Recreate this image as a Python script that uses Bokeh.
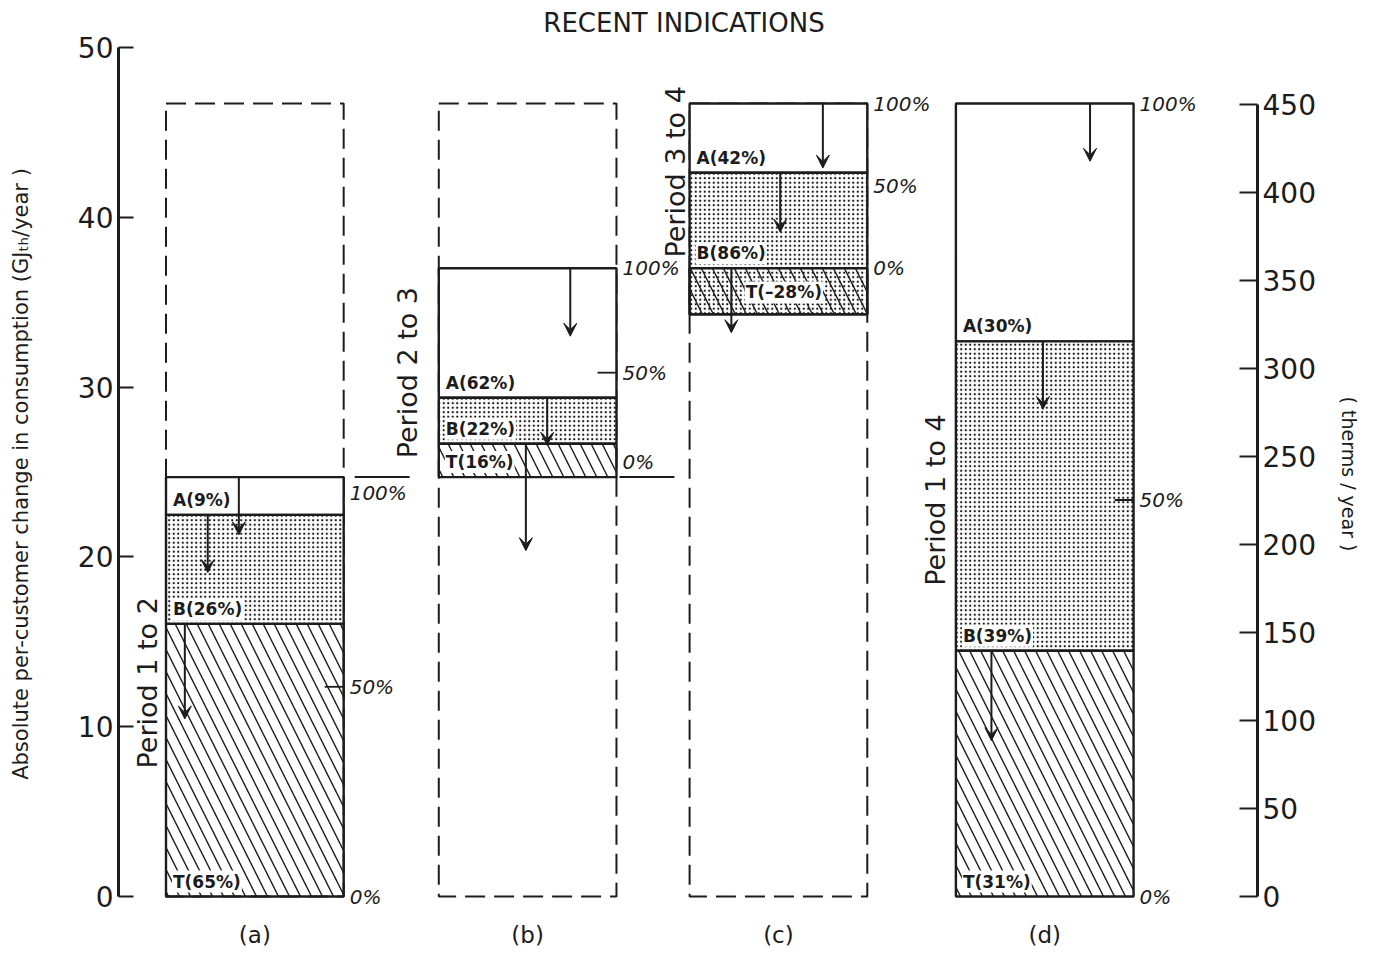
from math import pi
from bokeh.plotting import figure
from bokeh.models import Range1d, LinearAxis, FixedTicker, ColumnDataSource, Arrow, VeeHead
from bokeh.core.properties import value
from bokeh.embed import file_html
from bokeh.resources import INLINE

# ------------------------------------------------------------------ data
chart_title = "RECENT INDICATIONS"
panel_labels = ["(a)", "(b)", "(c)", "(d)"]
period_labels = ["Period 1 to 2", "Period 2 to 3", "Period 3 to 4", "Period 1 to 4"]
period_change = [24.7, 12.3, 9.7, 46.7]      # GJth/year per customer (100 % of each bar)
sequential = [True, True, True, False]        # (a)-(c) stack on each other, (d) from zero
share_T = [65, 16, -28, 31]                   # %
share_B = [26, 22, 86, 39]
share_A = [9, 62, 42, 30]
arrow_len_A = [3.4, 4.0, 3.8, 3.4]            # GJth/year
arrow_len_B = [3.4, 2.8, 3.5, 4.0]
arrow_len_T = [5.6, 6.3, 3.8, 5.3]
pct_marks = [0, 50, 100]
left_ticks = [0, 10, 20, 30, 40, 50]
right_ticks = [0, 50, 100, 150, 200, 250, 300, 350, 400, 450]
left_label = "Absolute per-customer change in consumption (GJ\u209c\u2095/year )"
right_label = "( therms / year )"

# ------------------------------------------------------------------ layout
FONT = value("DejaVu Sans")
INK = "#1c1c1c"
centers = [11.97, 35.92, 57.94, 81.32]
bar_w = 15.6
PX = 11.4                                   # px per x unit
YPX = 16.98                                 # px per GJ
RPX = 1.76                                  # px per therm
Y0PX = 896                                  # pixel row of zero
H = 947
period_gap_px = [3, 16, -1, 5]
period_dy_px = [-4, 0, -14, 0]
arrow_fx_A = [0.41, 0.74, 0.75, 0.755]
arrow_fx_B = [0.235, 0.61, 0.51, 0.49]
arrow_fx_T = [0.106, 0.49, 0.235, 0.20]
half_tick = [True, True, False, True]

# derived stack levels
bases, run = [], 0.0
for i, ch in enumerate(period_change):
    if sequential[i]:
        bases.append(run)
        run += ch
    else:
        bases.append(0.0)
overall = period_change[3]
lefts = [c - bar_w / 2 for c in centers]
rights = [c + bar_w / 2 for c in centers]

seg = {"T": [], "B": [], "A": []}
for i in range(4):
    b, ch = bases[i], period_change[i]
    t_end = b + share_T[i] / 100 * ch
    b_end = t_end + share_B[i] / 100 * ch
    a_end = b_end + share_A[i] / 100 * ch
    seg["T"].append((min(b, t_end), max(b, t_end)))
    seg["B"].append((t_end, b_end))
    seg["A"].append((b_end, a_end))

p = figure(width=1362, height=H, output_backend="svg", toolbar_location=None,
           x_range=Range1d(0, 100), y_range=Range1d(-(H - Y0PX) / YPX, Y0PX / YPX),
           x_axis_location=None, y_axis_location=None,
           min_border_left=118, min_border_right=104, min_border_top=0, min_border_bottom=0)
p.outline_line_color = None
p.grid.visible = False
p.xgrid.visible = False
p.ygrid.visible = False
p.background_fill_color = "white"
p.extra_y_ranges = {"therms": Range1d(-(H - Y0PX) / RPX, Y0PX / RPX)}

def style_axis(ax, tick_in):
    ax.axis_line_width = 3
    ax.axis_line_color = INK
    ax.major_tick_in = tick_in
    ax.major_tick_out = 0
    ax.major_tick_line_width = 2
    ax.major_tick_line_color = INK
    ax.minor_tick_line_color = None
    ax.major_label_text_font = "DejaVu Sans"
    ax.major_label_text_font_size = "28px"
    ax.major_label_text_color = INK
    ax.major_label_standoff = 5
    ax.axis_label_text_font = "DejaVu Sans"
    ax.axis_label_text_font_style = "normal"
    ax.axis_label_text_color = INK

yl = LinearAxis(ticker=FixedTicker(ticks=left_ticks), bounds=(0, 50), axis_label=left_label)
style_axis(yl, 15)
yl.axis_label_text_font_size = "21px"
yl.axis_label_standoff = 42
p.add_layout(yl, "left")

yr = LinearAxis(y_range_name="therms", ticker=FixedTicker(ticks=right_ticks), bounds=(0, 450),
                axis_label=right_label)
style_axis(yr, 18)
yr.axis_label_text_font_size = "19px"
yr.axis_label_standoff = 19
p.add_layout(yr, "right")

# dashed outline of the full period 1 to 4 change behind (a)-(c)
dl = [lefts[i] for i in range(3)]
dr = [rights[i] for i in range(3)]
p.quad(left=dl, right=dr, bottom=[0] * 3, top=[overall] * 3, fill_color=None,
       line_color=INK, line_width=2, line_dash="20 9")

# segments
p.quad(left=lefts, right=rights, bottom=[s[0] for s in seg["A"]], top=[s[1] for s in seg["A"]],
       fill_color="white", line_color=INK, line_width=2.4)
p.quad(left=lefts, right=rights, bottom=[s[0] for s in seg["B"]], top=[s[1] for s in seg["B"]],
       fill_color="white", hatch_pattern="dot", hatch_scale=4.5, hatch_weight=1.9,
       hatch_color="#111111", line_color=INK, line_width=2.4)
p.quad(left=lefts, right=rights, bottom=[s[0] for s in seg["T"]], top=[s[1] for s in seg["T"]],
       fill_color=None, hatch_pattern="\\", hatch_scale=22, hatch_weight=1.4,
       hatch_color=INK, line_color=INK, line_width=2.4)

# leader lines at the (a)/(b) junction
jl = bases[1]
p.segment(x0=[rights[0] + 11 / PX, rights[1] + 3 / PX], y0=[jl, jl],
          x1=[rights[0] + 66 / PX, rights[1] + 58 / PX], y1=[jl, jl], line_color=INK, line_width=2)

# 50 % ticks inside bars
hx0, hx1, hy = [], [], []
for i in range(4):
    if half_tick[i]:
        hx0.append(rights[i] - 19 / PX)
        hx1.append(rights[i])
        hy.append(bases[i] + 0.5 * period_change[i])
p.segment(x0=hx0, y0=hy, x1=hx1, y1=hy, line_color=INK, line_width=1.8)

# percentage scale labels
px_, py_, pt_, pdy = [], [], [], []
for i in range(4):
    for m in pct_marks:
        px_.append(rights[i] + 6 / PX)
        py_.append(bases[i] + m / 100 * period_change[i])
        pt_.append(f"{m}%")
        dy = 0
        if i == 0 and m == 100:
            dy = 16
        if i == 1 and m == 0:
            dy = -15
        pdy.append(dy)
p.text(x=px_, y=py_, text=pt_, y_offset=pdy, text_font=FONT, text_font_style="italic",
       text_font_size="20px", text_align="left", text_baseline="middle", text_color=INK)

# arrows
ax0, ay0, ax1, ay1 = [], [], [], []
for i in range(4):
    w = rights[i] - lefts[i]
    for key, fx, ln in (("A", arrow_fx_A, arrow_len_A), ("B", arrow_fx_B, arrow_len_B),
                        ("T", arrow_fx_T, arrow_len_T)):
        top = seg[key][i][1]
        ax0.append(lefts[i] + fx[i] * w)
        ax1.append(lefts[i] + fx[i] * w)
        ay0.append(top)
        ay1.append(top - ln[i])
asrc = ColumnDataSource(dict(x0=ax0, y0=ay0, x1=ax1, y1=ay1))
p.add_layout(Arrow(x_start="x0", y_start="y0", x_end="x1", y_end="y1", source=asrc,
                   line_color=INK, line_width=2,
                   end=VeeHead(size=13, fill_color=INK, line_color=INK, line_width=1)))

# segment labels
lx, ly, lt = [], [], []
for i in range(4):
    lx += [lefts[i] + 6 / PX] * 2
    ly += [seg["A"][i][0], max(bases[i], seg["B"][i][0])]
    lt += [f"A({share_A[i]}%)", f"B({share_B[i]}%)"]
    if share_T[i] >= 0:
        lx.append(lefts[i] + 6 / PX)
        ly.append(seg["T"][i][0])
    else:
        lx.append(lefts[i] + 0.31 * bar_w)
        ly.append(seg["T"][i][0] + 0.15 * (seg["T"][i][1] - seg["T"][i][0]))
    lt.append(f"T({share_T[i]}%)".replace("-", "\u2013"))
p.text(x=lx, y=ly, text=lt, y_offset=-4, text_font=FONT, text_font_style="bold",
       text_font_size="17px", text_align="left", text_baseline="bottom", text_color=INK,
       background_fill_color="white", padding=1)

# period labels
p.text(x=[lefts[i] - period_gap_px[i] / PX for i in range(4)],
       y=[bases[i] + period_change[i] / 2 for i in range(4)], text=period_labels,
       y_offset=period_dy_px, angle=pi / 2, text_font=FONT, text_font_size="27px",
       text_align="center", text_baseline="bottom", text_color=INK)

# panel captions and title
p.text(x=centers, y=[(Y0PX - 934) / YPX] * 4, text=panel_labels, text_font=FONT,
       text_font_size="23px", text_align="center", text_baseline="middle", text_color=INK)
p.text(x=[(684 - 118) / PX], y=[(Y0PX - 22) / YPX], text=[chart_title], text_font=FONT,
       text_font_size="26px", text_align="center", text_baseline="middle", text_color=INK)

open("out.html", "w").write(file_html(p, INLINE))
